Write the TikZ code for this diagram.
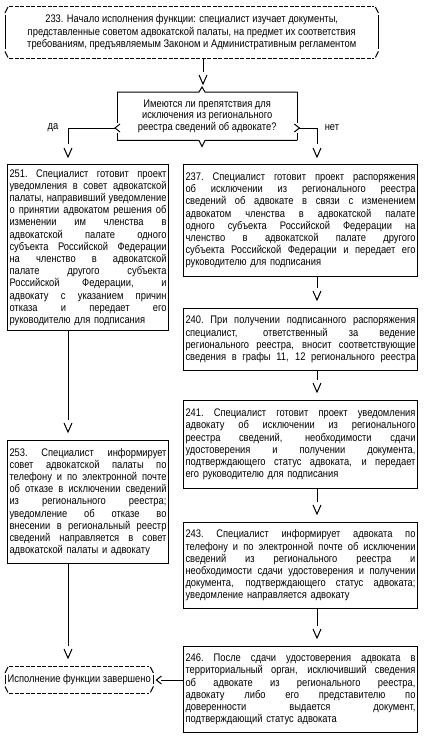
\documentclass[tikz,border=0pt]{standalone}
\usepackage{fontspec}
\setmainfont{Liberation Sans}[FakeStretch=0.85]
\usetikzlibrary{calc}
\newcommand\jS[1]{\makebox[157pt][s]{\spaceskip=2.6pt plus 1fil\xspaceskip=2.6pt plus 1fil\relax #1}\\}
\newcommand\jW[1]{\makebox[230pt][s]{\spaceskip=2.6pt plus 1fil\xspaceskip=2.6pt plus 1fil\relax #1}\\}
\newcommand\asciiframe[1]{%
  \draw[dashes] ($(#1.north west)+(4,0)$) -- ($(#1.north east)+(-4,0)$);
  \draw[dashes] ($(#1.south west)+(4,0)$) -- ($(#1.south east)+(-4,0)$);
  \draw[ln] ($(#1.north west)+(0,7)$) -- ($(#1.north west)+(3,1)$);
  \draw[ln] ($(#1.north east)+(0,7)$) -- ($(#1.north east)+(-3,1)$);
  \draw[ln] ($(#1.south west)+(0,-7)$) -- ($(#1.south west)+(3,-1)$);
  \draw[ln] ($(#1.south east)+(0,-7)$) -- ($(#1.south east)+(-3,-1)$);
  \draw[ln] ($(#1.north west)+(0,9)$) -- ($(#1.south west)+(0,-9)$);
  \draw[ln] ($(#1.north east)+(0,9)$) -- ($(#1.south east)+(0,-9)$);
}
\begin{document}
\begin{tikzpicture}[x=1pt,y=-1pt,
  every node/.style={font=\fontsize{11pt}{12.2pt}\selectfont, inner sep=2pt},
  box/.style={draw, line width=1pt, anchor=north west, text width=#1, align=left},
  ln/.style={line width=1pt},
  dashes/.style={line width=1pt, dash pattern=on 4pt off 1.5pt},
  vtip/.pic={\draw[line width=1pt] (-4,-9) -- (0,0) -- (4,-9);},
  ltip/.pic={\draw[line width=1pt] (5,-4) -- (0,0) -- (5,4);}
]
\useasboundingbox (0,0) rectangle (426,737);

% ---------- nodes ----------
\node[anchor=north west, minimum width=373pt, minimum height=52pt, align=center] (top) at (5,6)
 {233. Начало исполнения функции: специалист изучает документы,\\
  представленные советом адвокатской палаты, на предмет их соответствия\\
  требованиям, предъявляемым Законом и Административным регламентом};

\node[anchor=north west, minimum width=180pt, minimum height=48pt, align=center,
      font=\fontsize{11pt}{11.5pt}\selectfont] (dec) at (117,92)
 {Имеются ли препятствия для\\исключения из регионального\\реестра сведений об адвокате?};

\node[box=157pt, minimum height=166pt] (n251) at (7,164) {%
\jS{251. Специалист готовит проект}
\jS{уведомления в совет адвокатской}
\jS{палаты, направивший уведомление}
\jS{о принятии адвокатом решения об}
\jS{изменении им членства в}
\jS{адвокатской палате одного}
\jS{субъекта Российской Федерации}
\jS{на членство в адвокатской}
\jS{палате другого субъекта}
\jS{Российской Федерации, и}
\jS{адвокату с указанием причин}
\jS{отказа и передает его}
руководителю для подписания};

\node[box=230pt, minimum height=112pt] (n237) at (183,164) {%
\jW{237. Специалист готовит проект распоряжения}
\jW{об исключении из регионального реестра}
\jW{сведений об адвокате в связи с изменением}
\jW{адвокатом членства в адвокатской палате}
\jW{одного субъекта Российской Федерации на}
\jW{членство в адвокатской палате другого}
\jW{субъекта Российской Федерации и передает его}
руководителю для подписания};

\node[box=230pt, minimum height=62pt] (n240) at (183,308) {%
\jW{240. При получении подписанного распоряжения}
\jW{специалист, ответственный за ведение}
\jW{регионального реестра, вносит соответствующие}
\makebox[230pt][s]{\spaceskip=2.6pt plus 1fil\relax сведения в графы 11, 12 регионального реестра}};

\node[box=230pt, minimum height=88pt] (n241) at (183,400) {%
\jW{241. Специалист готовит проект уведомления}
\jW{адвокату об исключении из регионального}
\jW{реестра сведений, необходимости сдачи}
\jW{удостоверения и получении документа,}
\jW{подтверждающего статус адвоката, и передает}
его руководителю для подписания};

\node[box=157pt, minimum height=123pt] (n253) at (7,440) {%
\jS{253. Специалист информирует}
\jS{совет адвокатской палаты по}
\jS{телефону и по электронной почте}
\jS{об отказе в исключении сведений}
\jS{из регионального реестра;}
\jS{уведомление об отказе во}
\jS{внесении в региональный реестр}
\jS{сведений направляется в совет}
адвокатской палаты и адвокату};

\node[box=230pt, minimum height=86pt] (n243) at (183,522) {%
\jW{243. Специалист информирует адвоката по}
\jW{телефону и по электронной почте об исключении}
\jW{сведений из регионального реестра и}
\jW{необходимости сдачи удостоверения и получении}
\jW{документа, подтверждающего статус адвоката;}
уведомление направляется адвокату};

\node[box=230pt, minimum height=86pt] (n246) at (183,646) {%
\jW{246. После сдачи удостоверения адвоката в}
\jW{территориальный орган, исключивший сведения}
\jW{об адвокате из регионального реестра,}
\jW{адвокату либо его представителю по}
\jW{доверенности выдается документ,}
подтверждающий статус адвоката};

\node[anchor=north west, minimum width=148pt, minimum height=27pt, align=center] (endb) at (5,666)
 {Исполнение функции завершено};

\node (da) at (53,128) {да};
\node (net) at (332,128) {нет};

% ---------- frames ----------
\asciiframe{top}
\asciiframe{endb}

\coordinate (decL) at ($(dec.north west)+(-2,36)$);
\coordinate (decR) at ($(dec.north east)+(2,36)$);
\draw[ln] (dec.north west) -- ($(dec.north west)+(82,0)$) -- ($(dec.north west)+(85,-5)$)
   -- ($(dec.north west)+(88,0)$) -- (dec.north east);
\draw[ln] (dec.south west) -- ($(dec.south west)+(82,0)$) -- ($(dec.south west)+(85,6)$)
   -- ($(dec.south west)+(88,0)$) -- (dec.south east);
\draw[ln] (dec.north west) -- ($(dec.north west)+(0,31)$);
\draw[ln] ($(dec.north west)+(3,32)$) -- (decL) -- ($(dec.north west)+(3,40)$);
\draw[ln] ($(dec.north west)+(0,41)$) -- (dec.south west);
\draw[ln] (dec.north east) -- ($(dec.north east)+(0,31)$);
\draw[ln] ($(dec.north east)+(-3,32)$) -- (decR) -- ($(dec.north east)+(-3,40)$);
\draw[ln] ($(dec.north east)+(0,41)$) -- (dec.south east);

% ---------- connectors ----------
\coordinate (xT) at (203,0);
\coordinate (xL) at (68,0);
\coordinate (xR) at (317,0);

\draw[ln] (top.south -| xT) -- ($(dec.north -| xT)+(0,-20)$);
\pic at ($(dec.north -| xT)+(0,-8)$) {vtip};

\draw[ln] (decL) -| ($(n251.north -| xL)+(0,-20)$);
\pic at ($(n251.north -| xL)+(0,-7)$) {vtip};
\draw[ln] (decR) -| ($(n237.north -| xR)+(0,-20)$);
\pic at ($(n237.north -| xR)+(0,-7)$) {vtip};

\draw[ln] (n237.south -| xR) -- ($(n240.north -| xR)+(0,-20)$);
\pic at ($(n240.north -| xR)+(0,-8)$) {vtip};
\draw[ln] (n240.south -| xR) -- ($(n241.north -| xR)+(0,-20)$);
\pic at ($(n241.north -| xR)+(0,-8)$) {vtip};
\draw[ln] (n241.south -| xR) -- ($(n243.north -| xR)+(0,-20)$);
\pic at ($(n243.north -| xR)+(0,-8)$) {vtip};
\draw[ln] (n243.south -| xR) -- ($(n246.north -| xR)+(0,-20)$);
\pic at ($(n246.north -| xR)+(0,-8)$) {vtip};

\draw[ln] (n251.south -| xL) -- ($(n253.north -| xL)+(0,-20)$);
\pic at ($(n253.north -| xL)+(0,-8)$) {vtip};
\draw[ln] (n253.south -| xL) -- ($(endb.north -| xL)+(0,-20)$);
\pic at ($(endb.north -| xL)+(0,-8)$) {vtip};

\coordinate (yE) at (0,680);
\draw[ln] (n246.west |- yE) -- ($(endb.east |- yE)+(8,0)$);
\pic at ($(endb.east |- yE)+(3,0)$) {ltip};
\end{tikzpicture}
\end{document}
